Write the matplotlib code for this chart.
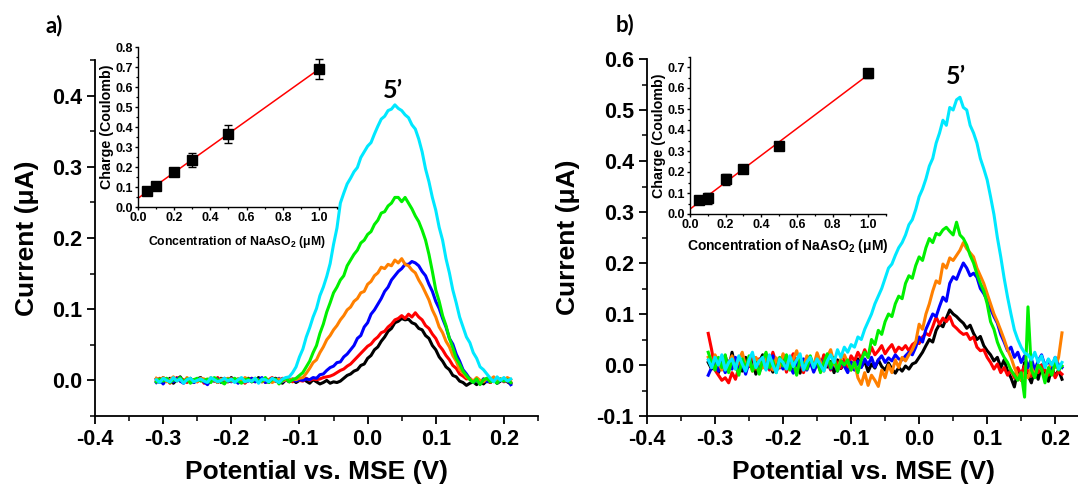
import numpy as np
import matplotlib
matplotlib.use("Agg")
import matplotlib.pyplot as plt
from matplotlib.ticker import MultipleLocator

plt.rcParams['font.family'] = ['Liberation Sans', 'DejaVu Sans']
plt.rcParams['font.weight'] = 'bold'
plt.rcParams['mathtext.fontset'] = 'custom'
plt.rcParams['mathtext.rm'] = 'Liberation Sans'
plt.rcParams['mathtext.bf'] = 'Liberation Sans:bold'

# Potential grid (V vs. MSE), 5 mV steps from -0.31 V to 0.21 V
potential = np.round(np.arange(-0.310, 0.2101, 0.005), 3)

# ---- Panel a: square-wave voltammograms, current in nA ----
a_black = ([2, -3, 4, -1, 3, -4, 1, 5, -2, 0, 3, -3, 2, 4, -1, -4, 2, 1, -3, 3,
            0, -2, 4, -1, 2, -3, 1, 3, -2, 0, 4, -2, 1, -3, 2, 3, -1, -4, 1]
           + [-2, 1, -3, 0, 2, -1, -4, 1, -2, -5, -3, 0, -4, -2, -3]
           + [-1, 3, 7, 9, 13, 15, 21, 23, 31, 35, 43, 47, 55, 61, 69, 73, 81, 83, 87, 85,
              86, 81, 79, 73, 71, 63, 59, 49, 43, 33, 27, 19, 15, 7, 5, -1, -3, -7]
           + [-4, -2, -6, -1, -5, 0, -3, 2, -4, -1, 3, -2, -5])
a_red = ([-1, 3, -2, 2, -4, 0, 4, -1, 1, -3, 2, 0, -2, 3, -4, 1, 2, -1, 4, -3,
          1, -2, 3, 0, -1, 2, -4, 1, 3, -2, 0, 2, -3, 1, 4, -1, -2, 3, 0]
         + [1, -2, 2, 0, -1, 3, 0, 2, 1]
         + [2, 4, 5, 6, 8, 11, 14, 16, 20, 23, 28, 33, 38, 43, 48, 51, 57, 61, 67, 69,
            75, 79, 85, 87, 91, 87, 93, 89, 95, 89, 85, 77, 73, 65, 59, 49, 43, 35, 29, 21,
            17, 9, 6, 2]
         + [3, -2, 1, -4, 2, 0, -3, 1, -1, 2, -2, 0, -3])
a_blue = ([-3, 1, -5, 2, 0, -2, 3, -1, -4, 2, 1, -3, 0, 3, -2, -6, 1, -1, 2, -3,
           3, 0, -2, 1, -4, 2, 0, -1, 3, -2, 1, 4, -3, 0, 2, -1, 3, -2, 1]
          + [0, 2, -1, 1, 0]
          + [2, 1, 4, 3, 8, 9, 14, 18, 20, 25, 26, 33, 37, 43, 49, 59, 63, 75, 81, 93,
             99, 107, 115, 125, 131, 141, 147, 153, 157, 163, 163, 167, 165, 161, 153, 147,
             135, 125, 111, 101, 87, 75, 59, 51, 37, 27, 15, 9, 2]
          + [-3, 1, -5, 2, -2, 0, 3, -4, 1, -1, 2, -6])
a_orange = ([3, 0, 4, -2, 1, 5, -1, 2, -3, 4, 0, 1, -2, 3, 2, -1, 4, 0, -3, 2,
             1, 3, -1, 0, 2, -2, 4, 1, -1, 3, 0, -2, 2, 1, -3, 0, 2, -1, 1]
            + [0, 2, 1, 3]
            + [4, 10, 17, 25, 29, 39, 47, 57, 63, 71, 77, 85, 91, 99, 103, 111, 115, 123,
               125, 135, 139, 147, 151, 159, 157, 163, 161, 169, 165, 171, 163, 161, 155,
               151, 141, 133, 123, 113, 99, 89, 75, 67, 55, 47, 35, 27, 15, 11, 5]
            + [2, -1, 4, 0, -2, 3, 1, 5, -1, 2, 0, 4, 1])
a_green = ([-2, 2, -1, 3, -3, 1, 0, 4, -2, 2, -4, 1, 3, -1, 0, 2, -3, 4, 1, -2,
            -5, 2, 0, 3, -1, -4, 1, 2, -2, 3, 0, -1, 4, -3, 1, 2, -5, 0, 3]
           + [-2, 1]
           + [3, 7, 11, 19, 27, 39, 49, 66, 79, 96, 109, 123, 131, 141, 147, 161, 169, 177,
              183, 193, 197, 205, 209, 219, 225, 235, 237, 245, 249, 257, 257, 251, 257,
              249, 241, 231, 223, 211, 197, 177, 153, 127, 111, 91, 77, 59, 46, 31, 23, 13,
              7, 1]
           + [-3, 2, -6, 1, 3, -2, 0, -4, 2, -1, 1, -3])
a_cyan = ([1, -3, 3, 0, -2, 4, -1, 2, -4, 1, 3, -2, 0, 2, -1, -3, 4, 1, -2, 0,
           3, -1, 2, -3, 1, 4, -2, 0, -1, 3, -4, 2, 1, -2, 3, 0, -3, 2, 4]
          + [5, 11, 19, 33, 44, 61, 74, 89, 101, 119, 131, 146, 164, 191, 214, 249, 263,
             276, 284, 293, 299, 313, 321, 329, 334, 346, 357, 367, 371, 379, 381, 387, 382,
             379, 373, 369, 359, 353, 339, 321, 297, 279, 257, 239, 215, 197, 171, 151, 127,
             109, 89, 75, 61, 53, 39, 31, 19, 15, 9]
          + [3, -2, 5, 0, 4, -1, 2])

# ---- Panel b: square-wave voltammograms, current in nA ----
b_black = ([5, -8, 12, -15, 3, 18, -10, 25, -5, 8, -12, 15, -3, 10, -18, 6, 20, -8, 2, -14,
            9, -4, 16, -10, 4, -6, 12, -16, 8, -2, 14, -9, 5, -12, 18, -4, 7, -15, 10, -7,
            3, -11]
           + [6, -9, 12, -4, 8, -13, 2, -6, 10, -3, -10, 4, -8, -16, -5, -12, -2, -8]
           + [2, 5, 15, 25, 38, 50, 45, 68, 80, 75, 92, 108, 100, 95, 88, 82, 72, 78, 62, 50,
              56, 38, 28, 20, 8, 15, -5, 10, -12]
           + [-25, -43, -10, -30, 5, -20, -35, -8, -28, 0, -18, -32, -5, -22, -10, -28])
b_red = ([62, 30, -10, -20, -30, -25, -35, -15, -28, -5, 10, -12, 5, 20, -8, 12, -4, 15, -10, 25,
          3, -6, 18, -14, 8, 22, -2, 10, -15, 6, 16, -8, 12, -3, 20, 5, -10, 15, 2, -6,
          12, -4]
         + [18, 8, 25, 12, 30, 15, 35, 20, 28, 38, 22, 32, 40, 25, 35, 30, 38, 28, 40]
         + [45, 42, 55, 62, 58, 75, 94, 80, 92, 85, 95, 78, 72, 65, 60, 62, 50, 55, 35, 28,
            30, 15]
         + [5, -8, 2, -15, -5, -20, -10, -25, -5, -18, -2, -12, -22, -8, -15, 0, -10, -20, -5,
            -25, -12, -18])
b_blue = ([-20, -5, 10, -12, 5, -15, 8, -8, 15, -10, 2, -18, 6, -5, 12, -14, 0, 10, -6, 18,
           -12, 4, -8, 14, -2, -16, 8, -4, 12, -10, 6, -14, 2, 10, -6, 16, -8, 4, -12, 8,
           -2, -15]
          + [5, -10, 8, -5, 12, 0, 15, -4, 10, 18, 5, 14, 8, 20, 12, 10]
          + [18, 25, 20, 35, 55, 45, 70, 85, 100, 95, 115, 133, 125, 160, 173, 168, 185, 200,
             190, 175, 180, 172, 150, 140, 127, 110, 95, 82, 60, 45, 28, 35, 15, 25, 5]
          + [18, -5, 12, -10, 8, 20, -2, 10, -8, 15, 0, -5])
b_orange = ([15, -5, 20, 5, -10, 12, 0, 18, -8, 10, 25, -2, 8, -12, 15, 5, -6, 20, 2, -10,
             14, -4, 22, 8, -8, 12, 28, 4, -6, 18, 10, -2, 24, 6, -12, 16, 30, 2, -8, 12,
             20, 5]
            + [-10, 5, -25, -38, -15, -40, -20, -30, -42, -10, -25, 0, -15, 10, -5, 15]
            + [8, 20, 30, 45, 80, 70, 100, 120, 145, 165, 160, 198, 190, 210, 205, 215, 225,
               240, 228, 220, 212, 190, 175, 160, 140, 120, 100, 85, 68, 50, 30, 15, -5, -20]
            + [-30, -15, -25, -5, -20, 0, -10, -28, -8, 5, -5, 15, 63])
b_green = ([25, 5, -10, 15, -5, 20, -15, 10, 0, -20, 12, -8, 18, -12, 5, -18, 10, 25, -5, 8,
            -15, 15, -2, 20, -10, 6, -20, 12, 2, -8, 18, -4, 10, -15, 5, 22, -6, 14, -12, 8,
            0, 10]
           + [-10, 5, -15, 10, 25, 15, 50, 40, 68, 60, 85, 100, 95, 120, 135, 130, 160, 175,
              170, 195, 212, 205, 230, 248, 240, 258, 255, 265, 270, 262, 255, 280, 255, 248,
              235, 215, 200, 178, 160, 145, 120, 85, 70, 45, 28, 15, 5, -10, -20]
           + [-30, -15, -63, 114, -10, -25, 0, -8, -35, -5, -20, 5, -10, -2])
b_cyan = ([10, -5, 15, 0, 20, -10, 5, 12, -8, 18, 2, -12, 10, 25, -5, 8, 15, -10, 20, 0,
           -15, 12, 5, -8, 18, -3, 10, 22, -10, 6, 15, -5, 12, 0, -12, 8, 20, 5]
          + [30, 15, 35, 25, 40, 35, 55, 50, 70, 85, 100, 120, 135, 150, 170, 190, 198, 215,
             230, 240, 255, 275, 285, 305, 330, 345, 365, 390, 405, 435, 455, 480, 470, 505,
             500, 520, 525, 505, 500, 470, 455, 435, 405, 385, 363, 330, 295, 250, 212, 170,
             133, 100, 69, 50, 35, 24, 20, 10]
          + [25, 5, 18, -5, 12, 0, 15, -8, 5])

# ---- Calibration insets: charge vs. NaAsO2 concentration ----
conc = [0.05, 0.1, 0.2, 0.3, 0.5, 1.0]
charge_a = [0.078, 0.105, 0.177, 0.235, 0.365, 0.690]
charge_a_err = [0.010, 0.010, 0.015, 0.035, 0.045, 0.050]
charge_b = [0.065, 0.075, 0.165, 0.215, 0.325, 0.670]
charge_b_err = [0.010, 0.025, 0.025, 0.015, 0.020, 0.020]

trace_colors = ['#000000', '#ff0000', '#0000ff', '#ff8000', '#00f000', '#00e8ff']
series_a = [a_black, a_red, a_blue, a_orange, a_green, a_cyan]
series_b = [b_black, b_red, b_blue, b_orange, b_green, b_cyan]

W, H = 1078, 488
fig = plt.figure(figsize=(W / 100, H / 100), dpi=100)


def frac(left, top, right, bottom):
    return [left / W, 1 - bottom / H, (right - left) / W, (bottom - top) / H]


def fmt1(v, pos):
    s = f'{v:.1f}'
    return '0.0' if s == '-0.0' else s


def style_axes(ax, size, major_len, minor_len, big, pad):
    for s in ('top', 'right'):
        ax.spines[s].set_visible(False)
    for s in ('left', 'bottom'):
        ax.spines[s].set_linewidth(1.3 if big else 1.0)
    ax.tick_params(which='major', direction='out', length=major_len, pad=pad,
                   width=1.3 if big else 1.0, labelsize=size)
    ax.tick_params(which='minor', direction='out', length=minor_len,
                   width=1.1 if big else 0.9)
    for lbl in ax.get_xticklabels() + ax.get_yticklabels():
        lbl.set_fontweight('bold')


def main_panel(rect, series, ylim, xlim, ylabelpad):
    ax = fig.add_axes(rect)
    for vals, c in zip(series, trace_colors):
        ax.plot(potential, np.array(vals) / 1000.0, color=c, lw=2.2,
                solid_joinstyle='round')
    ax.set_xlim(*xlim)
    ax.set_ylim(*ylim)
    ax.xaxis.set_major_locator(MultipleLocator(0.1))
    ax.xaxis.set_minor_locator(MultipleLocator(0.05))
    ax.yaxis.set_major_locator(MultipleLocator(0.1))
    ax.yaxis.set_minor_locator(MultipleLocator(0.05))
    ax.xaxis.set_major_formatter(plt.FuncFormatter(fmt1))
    ax.yaxis.set_major_formatter(plt.FuncFormatter(fmt1))
    ax.set_xlabel('Potential vs. MSE (V)', fontsize=19, fontweight='bold', labelpad=7)
    ax.set_ylabel('Current (\u03bcA)', fontsize=19, fontweight='bold', labelpad=ylabelpad)
    style_axes(ax, 15.5, 6, 3.5, True, 3.5)
    return ax


def inset(rect, y, yerr, ylim, xlab_size, ylab_size, xpad):
    ax = fig.add_axes(rect)
    slope, icpt = np.polyfit(conc, y, 1)
    xf = np.array([0.0, 1.0])
    ax.plot(xf, icpt + slope * xf, color='#ff0000', lw=1.1, zorder=2)
    ax.errorbar(conc, y, yerr=yerr, fmt='s', color='black', ms=6.5, capsize=3,
                elinewidth=1.0, capthick=1.0, zorder=3)
    ax.set_xlim(0, 1.1)
    ax.set_ylim(*ylim)
    ax.xaxis.set_major_locator(MultipleLocator(0.2))
    ax.xaxis.set_minor_locator(MultipleLocator(0.1))
    ax.yaxis.set_major_locator(MultipleLocator(0.1))
    ax.yaxis.set_minor_locator(MultipleLocator(0.05))
    ax.xaxis.set_major_formatter(plt.FuncFormatter(fmt1))
    ax.yaxis.set_major_formatter(plt.FuncFormatter(fmt1))
    ax.set_xlabel('Concentration of NaAsO$_\\mathbf{2}$ (\u03bcM)',
                  fontsize=xlab_size, fontweight='bold', labelpad=xpad)
    ax.set_ylabel('Charge (Coulomb)', fontsize=ylab_size, fontweight='bold', labelpad=1)
    ax.patch.set_alpha(0)
    style_axes(ax, 9, 2.5, 1.5, False, 1.2)
    return ax


ax_a = main_panel(frac(95, 60, 538, 416), series_a, (-0.05, 0.45), (-0.4, 0.25), 9)
ax_b = main_panel(frac(647, 59, 1079, 416), series_b, (-0.1, 0.6), (-0.4, 0.235), 12)

inset(frac(138, 47, 337, 207), charge_a, charge_a_err, (0, 0.8), 8.8, 10.3, 7)
inset(frac(690, 56.5, 886, 214), charge_b, charge_b_err, (0, 0.75), 10, 10.3, 4)

label_font = ['Lato', 'DejaVu Sans']
fig.text(54 / W, 1 - 26 / H, 'a)', fontsize=16, fontweight='bold', family=label_font,
         ha='center', va='center')
fig.text(625 / W, 1 - 25 / H, 'b)', fontsize=16, fontweight='bold', family=label_font,
         ha='center', va='center')
fig.text(393 / W, 1 - 90 / H, '5\u2019', fontsize=18, fontweight='bold', family=label_font,
         ha='center', va='center')
fig.text(956 / W, 1 - 77 / H, '5\u2019', fontsize=18, fontweight='bold', family=label_font,
         ha='center', va='center')

fig.savefig('out.png', dpi=100)
